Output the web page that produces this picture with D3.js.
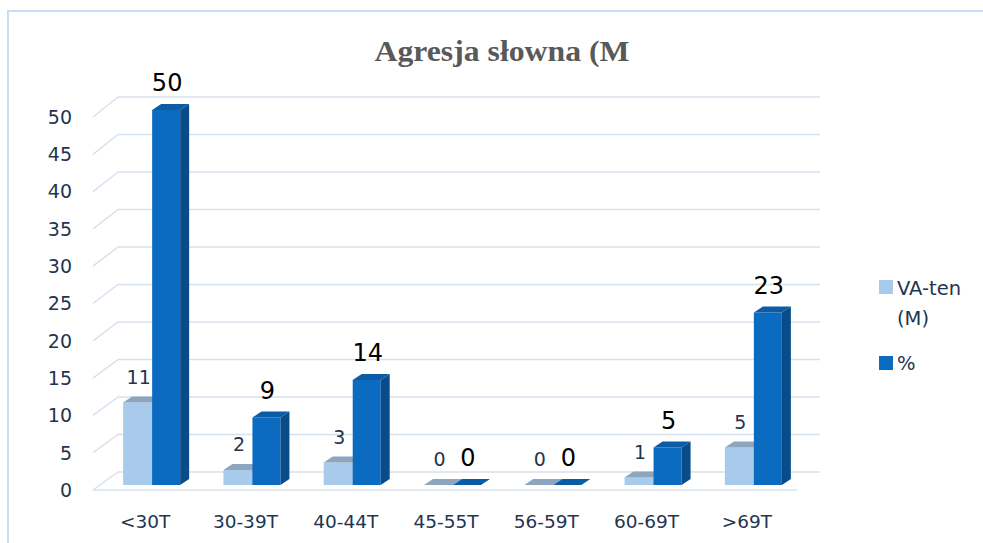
<!DOCTYPE html>
<html>
<head>
<meta charset="utf-8">
<script src="https://cdn.jsdelivr.net/npm/d3@7"></script>
<style>
  html, body { margin: 0; padding: 0; background: #fff; }
  svg { display: block; }
</style>
</head>
<body>
<svg id="chart" width="983" height="543"></svg>
<script>
const categories = ["<30T", "30-39T", "40-44T", "45-55T", "56-59T", "60-69T", ">69T"];
const vaTen = [11, 2, 3, 0, 0, 1, 5];
const pct = [50, 9, 14, 0, 0, 5, 23];
const yTicks = [0, 5, 10, 15, 20, 25, 30, 35, 40, 45, 50];
const seriesNames = ["VA-ten (M)", "%"];
const titleText = "Agresja słowna (M";

const svg = d3.select("#chart");
const FONT = "'DejaVu Sans', sans-serif";
const TXT = "#1f3550";

// frame
svg.append("path")
  .attr("d", "M8,543 L8,11 L983,11")
  .attr("fill", "none").attr("stroke", "#c9def2").attr("stroke-width", 2);

// scales
const xFront = d3.scaleBand().domain(categories).range([95, 797]).padding(0);
const yFront = d3.scaleLinear().domain([0, 50]).range([490, 117]);
const yBack = d3.scaleLinear().domain([0, 50]).range([472, 97]);
const yBar = d3.scaleLinear().domain([0, 50]).range([485, 110]);
const backLeft = 118, backRight = 820, frontLeft = 93;

// gridlines (back wall + left diagonals)
const grid = svg.append("g").attr("stroke", "#d6e1ee").attr("stroke-width", 1.5).attr("fill", "none");
yTicks.forEach(t => {
  grid.append("line").attr("x1", backLeft).attr("x2", backRight).attr("y1", yBack(t)).attr("y2", yBack(t));
  grid.append("line").attr("x1", frontLeft).attr("x2", backLeft).attr("y1", yFront(t)).attr("y2", yBack(t));
});
// floor front edge
grid.append("line").attr("x1", frontLeft).attr("x2", 797).attr("y1", yFront(0)).attr("y2", yFront(0));

// y tick labels
svg.append("g").selectAll("text").data(yTicks).join("text")
  .attr("x", 72).attr("y", d => yFront(d)).attr("dy", "0.36em")
  .attr("text-anchor", "end").attr("font-family", FONT).attr("font-size", 19)
  .attr("fill", TXT).text(d => d);

// x labels
svg.append("g").selectAll("text").data(categories).join("text")
  .attr("x", d => xFront(d) + xFront.bandwidth() / 2).attr("y", 528)
  .attr("text-anchor", "middle").attr("font-family", FONT).attr("font-size", 18.5)
  .attr("fill", TXT).text(d => d);

// bars
const DX = 9, DY = -6, BW = 29;
const colors = {
  light: { front: "#a9cbeb", top: "#8da5bf", side: "#7f9bb8" },
  dark: { front: "#0a6bc1", top: "#0b5ca4", side: "#084c8a" }
};
const bars = svg.append("g");
function drawBar(x, value, c, w) {
  const yt = yBar(value), yb = yBar(0);
  if (value > 0) {
    bars.append("rect").attr("x", x).attr("y", yt).attr("width", w).attr("height", yb - yt).attr("fill", c.front);
    bars.append("polygon").attr("points", [[x + w, yt], [x + w + DX, yt + DY], [x + w + DX, yb + DY], [x + w, yb]].join(" ")).attr("fill", c.side);
  }
  bars.append("polygon").attr("points", [[x, yt], [x + DX, yt + DY], [x + w + DX, yt + DY], [x + w, yt]].join(" ")).attr("fill", c.top);
}
categories.forEach((cat, i) => {
  const cx = xFront(cat) + xFront.bandwidth() / 2 + 7;
  drawBar(cx - BW, vaTen[i], colors.light, BW);
  drawBar(cx, pct[i], colors.dark, 28);
});

// data labels
const labels = svg.append("g").attr("font-family", FONT).attr("text-anchor", "middle");
categories.forEach((cat, i) => {
  const cx = xFront(cat) + xFront.bandwidth() / 2 + 7;
  labels.append("text").attr("x", cx - BW / 2 + 1).attr("y", yBar(vaTen[i]) + DY - 13)
    .attr("font-size", 19).attr("fill", TXT).text(vaTen[i]);
  labels.append("text").attr("x", cx + 14 + 1).attr("y", yBar(pct[i]) + DY - 13)
    .attr("font-size", 24).attr("fill", "#000").text(pct[i]);
});

// title
svg.append("text").attr("x", 502).attr("y", 61).attr("text-anchor", "middle")
  .attr("font-family", "'Liberation Serif', 'Times New Roman', serif").attr("font-weight", "bold")
  .attr("font-size", 29).attr("fill", "#595959")
  .attr("textLength", 255).attr("lengthAdjust", "spacingAndGlyphs").text(titleText);

// legend
const legend = svg.append("g").attr("font-family", FONT).attr("font-size", 19.5).attr("fill", TXT);
legend.append("rect").attr("x", 879).attr("y", 280).attr("width", 14).attr("height", 14).attr("fill", colors.light.front);
legend.append("text").attr("x", 897).attr("y", 295).text("VA-ten");
legend.append("text").attr("x", 897).attr("y", 325).text("(M)");
legend.append("rect").attr("x", 879).attr("y", 356).attr("width", 14).attr("height", 14).attr("fill", colors.dark.front);
legend.append("text").attr("x", 897).attr("y", 370).text(seriesNames[1]);
</script>
</body>
</html>
